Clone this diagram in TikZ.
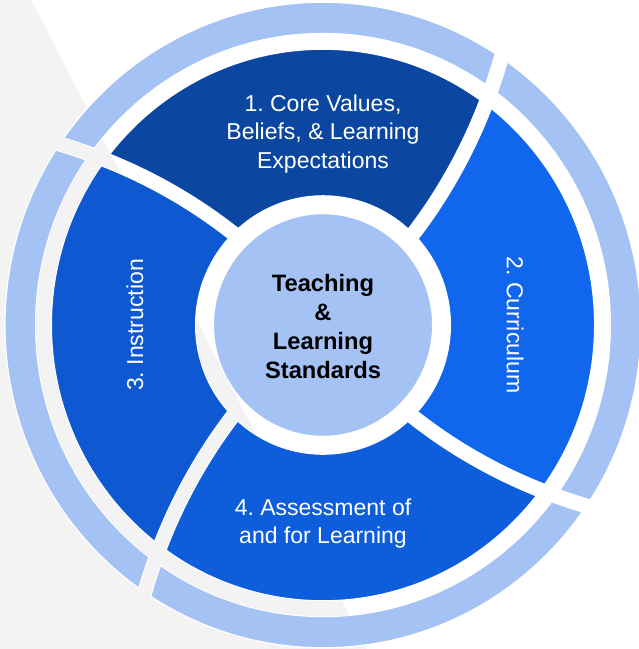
\documentclass[tikz,border=0pt]{standalone}
\usepackage{fontspec}
\setmainfont{Liberation Sans}
\usetikzlibrary{positioning}
\frenchspacing
\definecolor{lightring}{HTML}{A4C2F4}
\definecolor{segone}{HTML}{0B47A1}
\definecolor{segtwo}{HTML}{1067EE}
\definecolor{segthree}{HTML}{0E58D1}
\definecolor{segfour}{HTML}{0E5EDC}
\definecolor{bggray}{HTML}{F3F3F3}

% gaps between the pieces: #1 colour, #2 extra width for the rim
\newcommand{\cutgaps}[2]{%
  \foreach \a in {45,135,225,315}
    \draw[#1,line width=13pt+#2] plot[domain=118:335,samples=30] ({\a+0.058*(\x-130)}:\x);
  \draw[#1,line width=17pt+#2] (0,0) circle[radius=118.5];
  \draw[#1,line width=15pt+#2] (0,0) circle[radius=279.5];
}

\begin{document}
\begin{tikzpicture}[x=1pt,y=1.015pt,
  segtext/.style={text=white,font=\fontsize{23}{28.5}\selectfont,align=center},
  hubtext/.style={font=\fontsize{23.7}{29}\selectfont\bfseries,align=center}]
\useasboundingbox (-323,-319.2) rectangle (315,320.2);
\fill[white] (-323,-319.2) rectangle (315,320.2);
\fill[bggray] (-323,320.2) -- (-292,320.2) -- (44,-319.2) -- (-323,-319.2) -- cycle;
% outer ring
\fill[lightring,draw=white,line width=1.2pt] (0,0) circle[radius=318];
% the four pieces
\begin{scope}
  \clip (0,0) circle[radius=272];
  \foreach \a/\c in {45/segone,135/segthree,225/segfour,315/segtwo}
    \fill[\c] (0,0) -- plot[domain=0:450,samples=30] ({\a+0.058*(\x-130)}:\x)
      -- plot[domain=0:450,samples=30] ({\a+90+0.058*(320-\x)}:{450-\x}) -- cycle;
\end{scope}
\fill[lightring] (0,0) circle[radius=110];
% cut the gaps, white first, then grey on the left
\begin{scope}
  \clip (0,0) circle[radius=319.5];
  \cutgaps{white}{2pt}
\end{scope}
\begin{scope}
  \clip (-323,320.2) -- (-292,320.2) -- (44,-319.2) -- (-323,-319.2) -- cycle;
  \clip (0,0) circle[radius=319.5];
  \cutgaps{bggray}{0pt}
\end{scope}
\node[segtext] (core) at (0,188.5) {1. Core Values,\\Beliefs, \& Learning\\Expectations};
\node[segtext,rotate=-90] (curr) at (192,0) {2. Curriculum};
\node[segtext,rotate=90] (instr) at (-188,0) {3. Instruction};
\node[segtext] (assess) at (0,-195.5) {4. Assessment of\\and for Learning};
\node[hubtext] (hub) at (0,-1.5) {Teaching\\\&\\Learning\\Standards};
\end{tikzpicture}
\end{document}
